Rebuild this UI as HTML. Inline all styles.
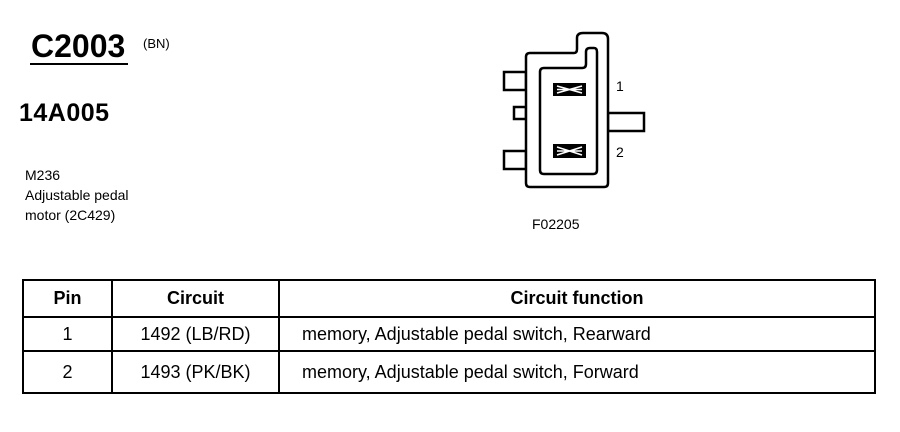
<!DOCTYPE html>
<html><head><style>
body{margin:0;width:900px;height:432px;background:#fff;position:relative;font-family:"Liberation Sans",Arial,sans-serif;color:#000;overflow:hidden}
.a{position:absolute;white-space:nowrap}
table{position:absolute;left:22px;top:279px;border-collapse:collapse;width:854px}
td{border:2px solid #000;font-size:18px;text-align:center;padding:0}
</style></head><body>
<div class="a" style="left:31px;top:28px;font-size:32px;font-weight:bold">C2003</div>
<div class="a" style="left:30px;top:63px;width:98px;height:2px;background:#000"></div>
<div class="a" style="left:143px;top:36px;font-size:13px">(BN)</div>
<div class="a" style="left:19px;top:99px;font-size:25px;font-weight:bold;letter-spacing:0.5px">14A005</div>
<div class="a" style="left:25px;top:165px;font-size:14px;line-height:20px">M236<br>Adjustable pedal<br>motor (2C429)</div>
<div class="a" style="left:532px;top:216px;font-size:14px">F02205</div>
<div class="a" style="left:616px;top:78px;font-size:14px">1</div>
<div class="a" style="left:616px;top:144px;font-size:14px">2</div>
<svg class="a" style="left:0;top:0" width="900" height="270">
<g fill="none" stroke="#000" stroke-width="2.5">
<rect x="504" y="72" width="22" height="18"/>
<rect x="514" y="107" width="12" height="12"/>
<rect x="504" y="151" width="22" height="18"/>
<rect x="608" y="113" width="36" height="18"/>
<path d="M530 53 H574 Q577 53 577 49 V38 Q577 33 583 33 H602 Q608 33 608 39 V183 Q608 187 604 187 H530 Q526 187 526 183 V57 Q526 53 530 53Z" fill="#fff"/>
<path d="M544 68 H582 Q586 68 586 64 V52 Q586 48 590 48 H594 Q597 48 597 52 V170 Q597 174 593 174 H544 Q540 174 540 170 V72 Q540 68 544 68Z"/>
</g>
<rect x="553" y="83" width="33" height="13" fill="#000"/>
<rect x="553" y="144" width="33" height="14" fill="#000"/>
<g stroke="#fff" stroke-width="1.5" fill="none">
<path d="M557 86 L582 93 M557 93 L582 86 M557 89.5 H582"/>
<path d="M557 147 L582 155 M557 155 L582 147 M557 151 H582"/>
</g>
</svg>
<table>
<tr style="height:37px"><td style="width:87px;font-weight:bold">Pin</td><td style="width:165px;font-weight:bold">Circuit</td><td style="font-weight:bold">Circuit function</td></tr>
<tr style="height:34px"><td>1</td><td>1492 (LB/RD)</td><td style="text-align:left;padding-left:22px">memory, Adjustable pedal switch, Rearward</td></tr>
<tr style="height:42px"><td>2</td><td>1493 (PK/BK)</td><td style="text-align:left;padding-left:22px">memory, Adjustable pedal switch, Forward</td></tr>
</table>
</body></html>
